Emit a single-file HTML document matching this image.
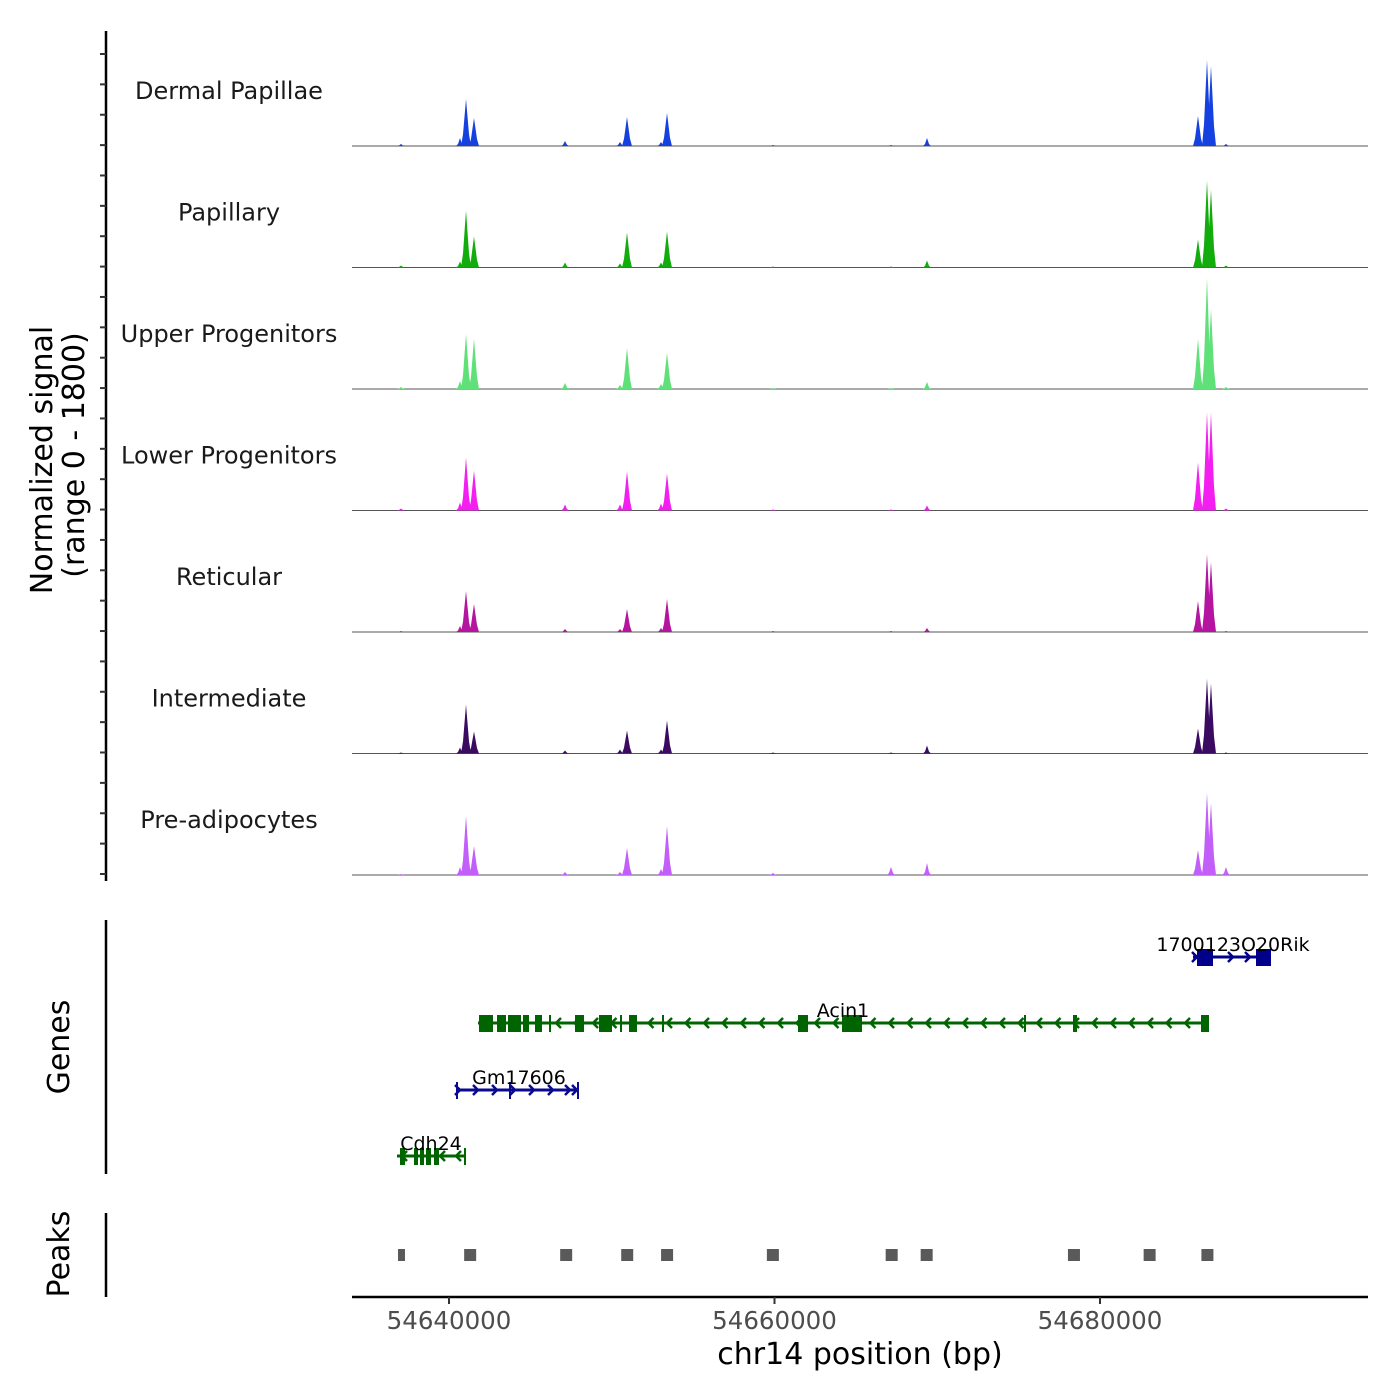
<!DOCTYPE html>
<html><head><meta charset="utf-8"><style>
body{margin:0;background:#fff}
svg{display:block;font-family:"DejaVu Sans","Liberation Sans",sans-serif}
</style></head><body>
<svg id="chart" width="1400" height="1400" viewBox="0 0 1400 1400">
<g id="tracks"></g>
<g id="genes"></g>
<g id="peaks"></g>
<g id="axes"></g>
</svg>
<script>
const trackNames = ["Dermal Papillae","Papillary","Upper Progenitors","Lower Progenitors","Reticular","Intermediate","Pre-adipocytes"];
const trackColors = ["#1541e0","#12ad0c","#5fe079","#f21ff0","#b4149f","#3b0b62","#c25ff8"];
const peakPositions = [54637050,54640676,54641045,54641536,54647128,54650507,54650937,54653026,54653395,54659908,54667158,54669370,54686021,54686574,54686820,54687742];
const signalDermal   = [30,120,705,420,75,60,435,60,495,15,15,120,450,1290,1200,30];
const signalPapillary= [30,90,855,465,75,60,525,75,540,15,15,105,420,1305,1170,30];
const signalUpper    = [30,120,825,750,90,60,615,75,540,15,15,105,750,1665,1200,30];
const signalLower    = [30,120,795,600,90,90,585,105,555,15,15,75,720,1470,1470,30];
const signalReticular= [15,90,615,420,45,45,345,60,495,15,15,60,465,1170,1050,15];
const signalInterm   = [15,90,735,330,45,60,345,60,495,15,15,120,375,1125,1050,15];
const signalPreadip  = [15,120,885,435,45,45,405,90,735,30,120,180,375,1230,1080,120];
const allSignals = [signalDermal,signalPapillary,signalUpper,signalLower,signalReticular,signalInterm,signalPreadip];
const xTicks = [54640000,54660000,54680000];
const peakRegions = [54637050,54641300,54647200,54650950,54653400,54659900,54667200,54669350,54678400,54683050,54686600];

const NS="http://www.w3.org/2000/svg";
function mk(tag,attrs,parent){const e=document.createElementNS(NS,tag);for(const k in attrs)e.setAttribute(k,attrs[k]);parent.appendChild(e);return e;}
const X0=352,X1=1368;
function xs(bp){return 449+(bp-54640000)*0.016275;}
const trackH=121.5, base0=146;
function ys(v,i){return base0+i*trackH - v/1800*120;}

const tracks=document.getElementById('tracks');
allSignals.forEach((sig,i)=>{
  const b=base0+i*trackH;
  const g=mk('g',{},tracks);
  
  
  const lab=mk('text',{x:229,y:b-47,'font-size':24,'text-anchor':'middle',fill:'#1a1a1a'},g);
  lab.textContent=trackNames[i];
  
  
  const ln=mk('line',{x1:X0,x2:X1,y1:b,y2:b,stroke:'#555','stroke-width':1},g);
  
  
  sig.forEach((v,j)=>{
    const x=xs(peakPositions[j]);const y=ys(v,i);const w=v>300?3:2;
    const p=mk('polygon',{points:`${x-w-2},${b} ${x-w},${b-(b-y)*0.25} ${x},${y} ${x+w},${b-(b-y)*0.25} ${x+w+2},${b}`,fill:trackColors[i]},g);
    
    
  });
});

// genes
const genes=document.getElementById('genes');
function gene(name,x1,x2,y,col,dir,exons,arrows,lx,ly){
  const g=mk('g',{},genes);
  
  
  mk('line',{x1:x1,x2:x2,y1:y,y2:y,stroke:col,'stroke-width':3},g);
  exons.forEach(e=>mk('rect',{x:e[0],y:y-8,width:e[1]-e[0],height:17,fill:col},g));
  arrows.forEach(a=>{const d=dir*5;mk('polyline',{points:`${a-d},${y-5} ${a},${y} ${a-d},${y+5}`,fill:'none',stroke:col,'stroke-width':2.5},g);});
  const t=mk('text',{x:lx,y:ly,'font-size':19,'text-anchor':'middle',fill:'#000'},g);t.textContent=name;
}
const acinArrows=[];for(let a=556;a<1200;a+=18.5)acinArrows.push(a);
gene('Acin1',478,1209,1023,'#006400',-1,[[479,493],[497,506],[508,521],[523,529],[535,542],[549,551],[575,584],[599,612],[620,622],[629,637],[662,664],[798,808],[842,862],[1024,1026],[1073,1077],[1201,1209]],acinArrows,843,1017);
gene('Gm17606',456,579,1090,'#0a0a90',1,[[456,458],[509,511],[577,579]],[460,478,497,515,534,553,570,577],519,1084);
gene('Cdh24',397,466,1156,'#006400',-1,[[400,405],[414,418],[420,424],[426,431],[434,439],[464,466]],[402,440,456],431,1150);
gene('1700123O20Rik',1193,1271,957,'#00008b',1,[[1197,1213],[1256,1271]],[1197,1233,1250],1233,951);

const peaks=document.getElementById('peaks');
peakRegions.forEach(p=>{
  const r=mk('rect',{x:xs(p)-6,y:1249,width:12,height:12,fill:'#5a5a5a'},peaks);
  
  
});
peaks.firstChild.setAttribute('width',7);peaks.firstChild.setAttribute('x',xs(peakRegions[0])-3);

// axes
const ax=document.getElementById('axes');
mk('line',{x1:106,x2:106,y1:31,y2:881,stroke:'#000','stroke-width':2.5},ax);
for(let y=54;y<880;y+=30.37)mk('line',{x1:100,x2:106,y1:y,y2:y,stroke:'#333','stroke-width':2},ax);
mk('line',{x1:106,x2:106,y1:920,y2:1174,stroke:'#000','stroke-width':2.5},ax);
mk('line',{x1:106,x2:106,y1:1213,y2:1297,stroke:'#000','stroke-width':2.5},ax);
mk('line',{x1:X0,x2:X1,y1:1297,y2:1297,stroke:'#000','stroke-width':2.5},ax);
xTicks.forEach(t=>{
  mk('line',{x1:xs(t),x2:xs(t),y1:1297,y2:1304,stroke:'#333','stroke-width':2},ax);
  const l=mk('text',{x:xs(t),y:1329,'font-size':24.5,'text-anchor':'middle',fill:'#4d4d4d'},ax);l.textContent=t;
  
  
});
function txt(s,x,y,size,rot,name){const t=mk('text',{x:x,y:y,'font-size':size,'text-anchor':'middle',fill:'#000',transform:rot?`rotate(-90 ${x} ${y})`:''},ax);t.textContent=s;return t;}
txt('chr14 position (bp)',860,1364,30,false,'x-axis-title');
txt('Normalized signal',52,460,30,true,'y-axis-title');
txt('(range 0 - 1800)',84,455,30,true,'y-axis-subtitle');
txt('Genes',69,1047,30,true,'genes-axis-title');
txt('Peaks',69,1254,30,true,'peaks-axis-title');
</script>
</body></html>
